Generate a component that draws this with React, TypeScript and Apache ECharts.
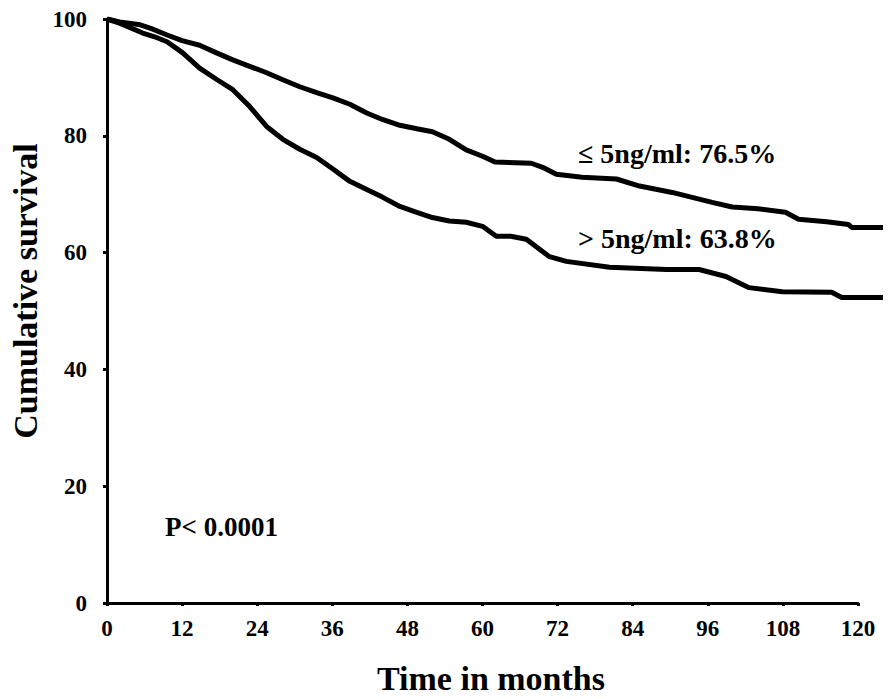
import React, { useEffect, useRef } from "react";
import * as echarts from "echarts";

// Kaplan–Meier estimates, cumulative survival (%) by month
const monthsLow = [0, 2, 5.3, 7, 9.5, 12, 14.8, 17.5, 20.1, 22.8, 25.5, 28.1, 30.8, 33.5, 36.1, 38.8, 41.5, 44, 46.8, 49.5, 52, 54.7, 57.4, 60, 62, 67.8, 69.6, 71.8, 75.9, 81.4, 85.1, 90.3, 96.7, 99.9, 104, 108.4, 110.5, 115, 118.5, 119, 124];
const survivalLow = [100, 99.5, 99.0, 98.4, 97.3, 96.3, 95.5, 94.2, 93.0, 91.9, 90.8, 89.6, 88.4, 87.4, 86.5, 85.4, 83.9, 82.8, 81.8, 81.2, 80.7, 79.4, 77.6, 76.5, 75.5, 75.3, 74.6, 73.4, 72.9, 72.6, 71.4, 70.3, 68.6, 67.8, 67.5, 66.9, 65.7, 65.3, 64.8, 64.3, 64.3];

const monthsHigh = [0, 2, 5.7, 7.5, 9.6, 12.1, 14.8, 17.6, 20.1, 22.8, 25.5, 28.1, 30.8, 33.5, 36.1, 38.8, 41.5, 44, 46.8, 49.5, 52, 54.7, 57.4, 60, 62.2, 64.5, 67, 70.7, 73.4, 80.3, 89.4, 94.6, 98.9, 102.6, 107.9, 115.8, 117.4, 124];
const survivalHigh = [100, 99.3, 97.6, 97.0, 96.1, 94.2, 91.6, 89.6, 87.9, 85.0, 81.6, 79.4, 77.7, 76.3, 74.3, 72.2, 70.8, 69.5, 67.9, 66.9, 66.0, 65.4, 65.2, 64.5, 62.8, 62.8, 62.3, 59.3, 58.5, 57.5, 57.1, 57.1, 55.9, 54.0, 53.3, 53.2, 52.3, 52.3];

const xTicks = [0, 12, 24, 36, 48, 60, 72, 84, 96, 108, 120];
const yTicks = [0, 20, 40, 60, 80, 100];

const labelLow = "≤ 5ng/ml: 76.5%";
const labelHigh = "> 5ng/ml: 63.8%";
const pValueText = "P< 0.0001";

const FONT = "'Liberation Serif', 'Times New Roman', serif";

const pairs = (xs: number[], ys: number[]) => xs.map((x, i) => [x, ys[i]]);

// Layout of the drawn axes; the curves run a little past the last tick,
// so they sit on a second, hidden grid sharing the same scale.
const W = 888;
const GRID_LEFT = 107;
const GRID_RIGHT = 30;
const X_MAX = 120;
const CURVE_X_MAX = 124;
const PX_PER_MONTH = (W - GRID_LEFT - GRID_RIGHT) / X_MAX;
const CURVE_GRID_RIGHT = W - GRID_LEFT - CURVE_X_MAX * PX_PER_MONTH;

export default function App() {
  const ref = useRef<HTMLDivElement>(null);

  useEffect(() => {
    if (!ref.current) return;
    const chart = echarts.init(ref.current, null, { renderer: "svg" });

    const lineStyle = { color: "#000", width: 5 };
    const hiddenAxis = { show: false };

    chart.setOption({
      animation: false,
      backgroundColor: "#fff",
      grid: [
        { left: GRID_LEFT, right: GRID_RIGHT, top: 19, bottom: 96, outerBoundsMode: "none", containLabel: false },
        { left: GRID_LEFT, right: CURVE_GRID_RIGHT, top: 19, bottom: 96, outerBoundsMode: "none", containLabel: false },
      ],
      xAxis: [
        {
          type: "value",
          gridIndex: 0,
          min: 0,
          max: X_MAX,
          interval: 12,
          axisLine: { show: true, onZero: false, lineStyle: { color: "#000", width: 3 } },
          axisTick: { show: true, length: 3, lineStyle: { color: "#000", width: 3 } },
          splitLine: { show: false },
          axisLabel: {
            color: "#000",
            fontFamily: FONT,
            fontWeight: "bold",
            fontSize: 23,
            margin: 14,
            formatter: (v: number) => (xTicks.includes(v) ? String(v) : ""),
          },
        },
        { type: "value", gridIndex: 1, min: 0, max: CURVE_X_MAX, ...hiddenAxis },
      ],
      yAxis: [
        {
          type: "value",
          gridIndex: 0,
          min: 0,
          max: 100,
          interval: 20,
          axisLine: { show: true, onZero: false, lineStyle: { color: "#000", width: 3 } },
          axisTick: { show: true, length: 4, lineStyle: { color: "#000", width: 3 } },
          splitLine: { show: false },
          axisLabel: {
            color: "#000",
            fontFamily: FONT,
            fontWeight: "bold",
            fontSize: 23,
            margin: 20,
            formatter: (v: number) => (yTicks.includes(v) ? String(v) : ""),
          },
        },
        { type: "value", gridIndex: 1, min: 0, max: 100, ...hiddenAxis },
      ],
      series: [
        {
          name: "≤ 5ng/ml",
          type: "line",
          xAxisIndex: 1,
          yAxisIndex: 1,
          data: pairs(monthsLow, survivalLow),
          showSymbol: false,
          lineStyle,
          z: 3,
        },
        {
          name: "> 5ng/ml",
          type: "line",
          xAxisIndex: 1,
          yAxisIndex: 1,
          data: pairs(monthsHigh, survivalHigh),
          showSymbol: false,
          lineStyle,
          z: 3,
        },
      ],
      graphic: [
        {
          type: "text",
          x: 578,
          y: 153,
          style: { text: labelLow, fill: "#000", font: `bold 28px ${FONT}`, textAlign: "left", textVerticalAlign: "middle" },
        },
        {
          type: "text",
          x: 578,
          y: 238,
          style: { text: labelHigh, fill: "#000", font: `bold 28px ${FONT}`, textAlign: "left", textVerticalAlign: "middle" },
        },
        {
          type: "text",
          x: 165,
          y: 527,
          style: { text: pValueText, fill: "#000", font: `bold 27px ${FONT}`, textAlign: "left", textVerticalAlign: "middle" },
        },
        {
          type: "text",
          x: 491,
          y: 678,
          style: { text: "Time in months", fill: "#000", font: `bold 34px ${FONT}`, textAlign: "center", textVerticalAlign: "middle" },
        },
        {
          type: "text",
          x: 25,
          y: 291,
          rotation: Math.PI / 2,
          style: { text: "Cumulative survival", fill: "#000", font: `bold 34px ${FONT}`, textAlign: "center", textVerticalAlign: "middle" },
        },
      ],
    });

    return () => chart.dispose();
  }, []);

  return <div ref={ref} style={{ position: "fixed", left: 0, top: 0, width: 888, height: 699 }} />;
}
